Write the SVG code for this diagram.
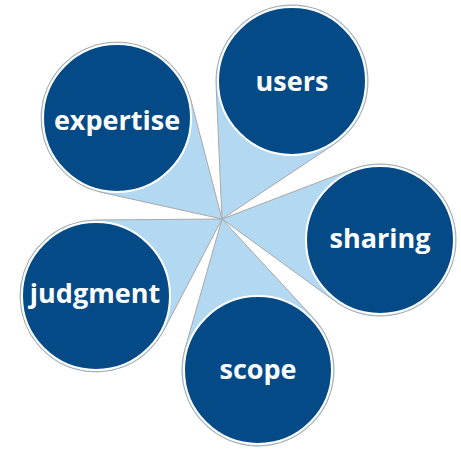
<svg xmlns="http://www.w3.org/2000/svg" width="461" height="449" viewBox="0 0 461 449">
  <style>
    .drop { fill: #b3d8f1; stroke: #a9a9a9; stroke-width: 1; stroke-linejoin: miter; }
    .disc { fill: #044a87; stroke: #ffffff; stroke-width: 2; }
    .label { fill: #ffffff; font-family: "Open Sans", "Liberation Sans", sans-serif; font-weight: 700; font-size: 27px; text-anchor: middle; }
  </style>
  <rect width="461" height="449" fill="#ffffff"/>

  <!-- wedge-shaped pointers, all meeting at the hub (222,219) -->
  <g id="connectors">
    <path class="drop" d="M222 219 L190.52 98.77 A76 76 0 1 0 100.63 192.21 Z"/>
    <path class="drop" d="M222 219 L334.16 144.24 A76 76 0 1 0 216.07 84.33 Z"/>
    <path class="drop" d="M222 219 L335.27 301.44 A76 76 0 1 0 352.88 169.01 Z"/>
    <path class="drop" d="M222 219 L95.39 220.00 A76 76 0 1 0 163.35 331.21 Z"/>
    <path class="drop" d="M222 219 L184.91 349.18 A76 76 0 1 0 313.83 318.43 Z"/>
  </g>

  <g id="expertise">
    <circle class="disc" cx="117" cy="118" r="74"/>
    <text class="label" x="117" y="130">expertise</text>
  </g>
  <g id="users">
    <circle class="disc" cx="292" cy="81" r="74"/>
    <text class="label" x="292" y="91">users</text>
  </g>
  <g id="sharing">
    <circle class="disc" cx="380" cy="240" r="74"/>
    <text class="label" x="380" y="248">sharing</text>
  </g>
  <g id="judgment">
    <circle class="disc" cx="96" cy="296" r="74"/>
    <text class="label" x="95" y="303">judgment</text>
  </g>
  <g id="scope">
    <circle class="disc" cx="258" cy="370" r="74"/>
    <text class="label" x="258" y="379">scope</text>
  </g>
</svg>
